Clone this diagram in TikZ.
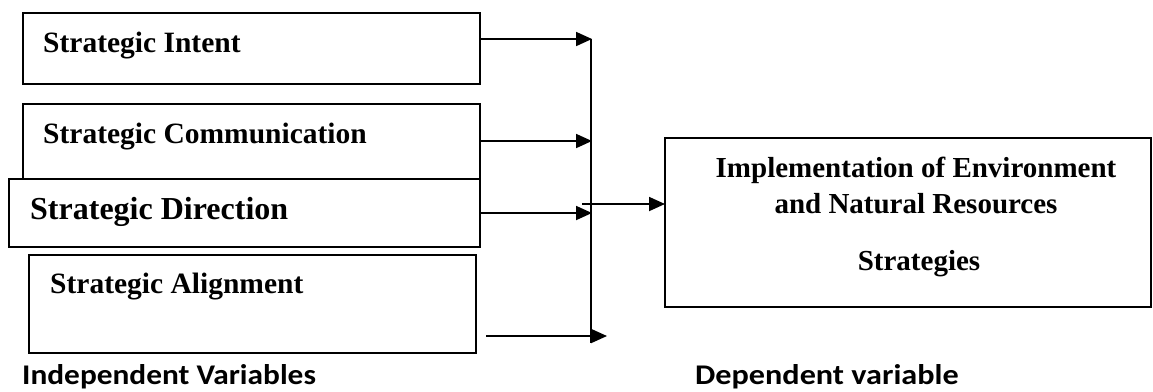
\documentclass[tikz,border=0pt]{standalone}
\usepackage{fontspec}
\setmainfont{Liberation Serif}
\newfontfamily\capfont{Carlito}
\usetikzlibrary{arrows.meta}
\tikzset{
  box/.style={draw=black, line width=1.8pt, fill=white, rectangle, inner sep=0pt, outer sep=0pt, anchor=north west},
  arr/.style={line width=1.8pt, -{Triangle[length=16pt,width=14pt]}},
  conn/.style={line width=1.8pt},
  lbl/.style={anchor=base west, inner sep=0pt, font=\bfseries\fontsize{29.5}{34}\selectfont},
  rlbl/.style={anchor=base, inner sep=0pt, font=\bfseries\fontsize{29}{34}\selectfont},
  captext/.style={anchor=base west, inner sep=0pt, font=\capfont\bfseries\fontsize{28.5}{32}\selectfont}
}
\begin{document}
\begin{tikzpicture}[x=1pt,y=-1pt]
\useasboundingbox (0,0) rectangle (1153,391);
% boxes
\node[box, minimum width=457pt, minimum height=71pt] (b1) at (23,13) {};
\node[box, minimum width=457pt, minimum height=110pt] (b2) at (23,104) {};
\node[box, minimum width=471pt, minimum height=68pt] (b3) at (9,179) {};
\node[box, minimum width=447pt, minimum height=98pt] (b4) at (29,255) {};
\node[box, minimum width=486pt, minimum height=169pt] (b5) at (665,138) {};
% texts
\node[lbl] (t1) at (43,52) {Strategic Intent};
\node[lbl] (t2) at (43,143) {Strategic Communication};
\node[lbl, font=\bfseries\fontsize{32}{36}\selectfont] (t3) at (30,219) {Strategic Direction};
\node[lbl] (t4) at (50,293) {Strategic Alignment};
\node[rlbl] (t5) at (916,177) {Implementation of Environment};
\node[rlbl] (t6) at (916,213) {and Natural Resources};
\node[rlbl] (t7) at (919,270) {Strategies};
\node[captext] (c1) at (22,384) {\scalebox{1.1}[1]{Independent Variables}};
\node[captext] (c2) at (695,384) {\scalebox{1.13}[1]{Dependent variable}};
% connectors
\coordinate (v1) at (591,39);
\coordinate (v2) at (591,141);
\coordinate (v3) at (591,213);
\coordinate (vb) at (591,343);
\coordinate (j) at (582,204);
\coordinate (a4s) at (486,336);
\coordinate (a4e) at (607,336);
\draw[conn] (v1) -- (vb);
\draw[arr] (b1.east |- v1) -- ([xshift=1pt]v1);
\draw[arr] (b2.east |- v2) -- ([xshift=1pt]v2);
\draw[arr] (b3.east |- v3) -- ([xshift=1pt]v3);
\draw[arr] (a4s) -- (a4e);
\draw[arr] (j) -- (j -| b5.west);
\end{tikzpicture}
\end{document}
